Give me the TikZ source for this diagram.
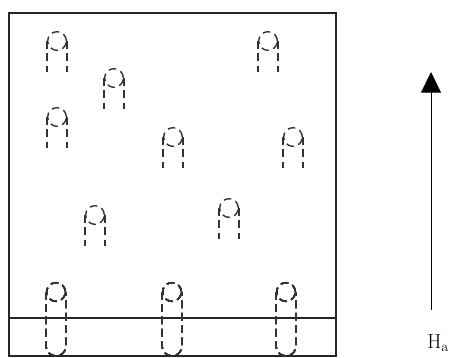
\documentclass[tikz,border=0pt]{standalone}
\usetikzlibrary{arrows.meta}
\tikzset{
  film/edge/.style={black!85, line width=1.2pt},
  film/dash/.style={black!80, line width=1.2pt, dash pattern=on 6.5pt off 4pt},
}
% bubble domain: head at (#1,#2), two legs down
\newcommand{\bubblehead}[2]{%
  \draw[film/dash] (#1,#2) circle[radius=0.28cm];
  \draw[film/dash] (#1-10,#2) -- (#1-10,#2+31);
  \draw[film/dash] (#1+10,#2) -- (#1+10,#2+31);
}

\begin{document}
\begin{tikzpicture}[x=0.03cm, y=-0.03cm]
  \useasboundingbox (0,0) rectangle (455,357);
  % film and substrate
  \draw[film/edge] (9,13) rectangle (336,356);
  \draw[film/edge] (9,318) -- (336,318);
  % free bubbles
  \foreach \x/\y in {57/41, 114/78, 57/117, 268/41, 173/137, 293/137, 95/215, 229/208}
    \bubblehead{\x}{\y}
  % bubbles reaching the substrate
  \foreach \x in {56,172,286} {
    \draw[film/dash] (\x,292) circle[radius=0.28cm];
    \draw[film/dash] (\x-10,292) -- (\x-10,346) arc[start angle=180, end angle=360, radius=0.3cm] -- (\x+10,292);
  }
  % applied field
  \coordinate (h0) at (431,310);
  \coordinate (h1) at (431,72);
  \draw[line width=0.8pt, -{Triangle[width=0.6cm, length=0.62cm]}] (h0) -- (h1);
  \node[font=\fontsize{17}{20}\selectfont] (ha) at (438,343) {$\mathrm{H}_{\mathrm{a}}$};
\end{tikzpicture}
\end{document}
